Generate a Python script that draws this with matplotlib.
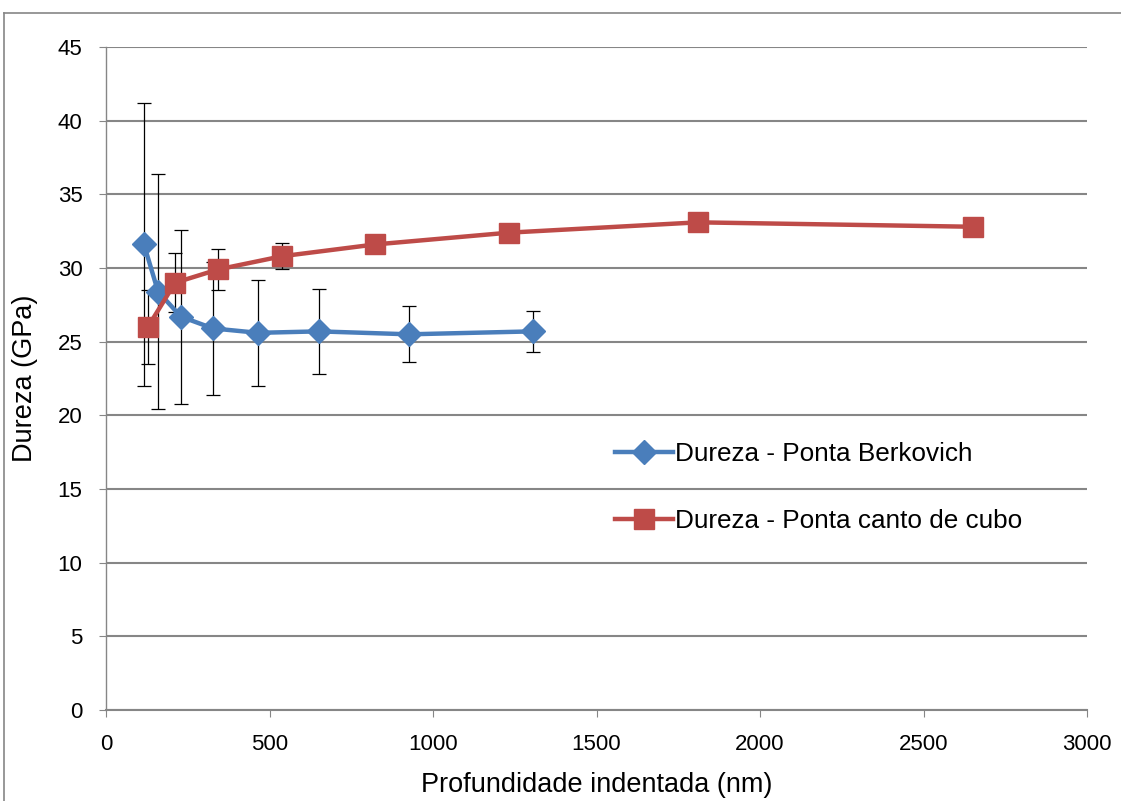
import matplotlib.pyplot as plt
from matplotlib.lines import Line2D

# Dureza - Ponta Berkovich
berk_x = [116, 159, 229, 327, 465, 651, 927, 1306]
berk_y = [31.6, 28.4, 26.7, 25.9, 25.6, 25.7, 25.5, 25.7]
berk_err = [9.6, 8.0, 5.9, 4.5, 3.6, 2.9, 1.9, 1.4]

# Dureza - Ponta canto de cubo
cubo_x = [128, 211, 342, 538, 823, 1232, 1810, 2651]
cubo_y = [26.0, 29.0, 29.9, 30.8, 31.6, 32.4, 33.1, 32.8]
cubo_err = [2.5, 2.0, 1.4, 0.9, 0.5, 0.4, 0.3, 0.2]

x_ticks = [0, 500, 1000, 1500, 2000, 2500, 3000]
y_ticks = [0, 5, 10, 15, 20, 25, 30, 35, 40, 45]

plt.rcParams['font.family'] = ['Liberation Sans', 'DejaVu Sans']

BLUE = '#4A7EBB'
RED = '#BE4B48'
GRID = '#868686'

fig = plt.figure(figsize=(11.21, 8.01), dpi=100)
ax = fig.add_axes([0.0946, 0.1136, 0.8751, 0.8277])

# moldura do grafico (estilo Excel)
fig.add_artist(Line2D([0.0036, 1.0], [0.9838, 0.9838], color=GRID, lw=1.2))
fig.add_artist(Line2D([0.0036, 0.0036], [0.0, 0.9838], color=GRID, lw=1.2))

ax.errorbar(berk_x, berk_y, yerr=berk_err, fmt='none', ecolor='black',
            elinewidth=0.9, capsize=4.7, capthick=0.9, zorder=3)
ax.errorbar(cubo_x, cubo_y, yerr=cubo_err, fmt='none', ecolor='black',
            elinewidth=0.9, capsize=4.7, capthick=0.9, zorder=3)

ax.plot(berk_x, berk_y, color=BLUE, lw=3.2, marker='D', markersize=12,
        markerfacecolor=BLUE, markeredgecolor=BLUE, zorder=4,
        label='Dureza - Ponta Berkovich')
ax.plot(cubo_x, cubo_y, color=RED, lw=3.2, marker='s', markersize=14.5,
        markerfacecolor=RED, markeredgecolor=RED, zorder=5,
        label='Dureza - Ponta canto de cubo')

ax.set_xlim(0, 3000)
ax.set_ylim(0, 45)
ax.set_xticks(x_ticks)
ax.set_yticks(y_ticks)
ax.grid(axis='y', color=GRID, lw=1.5)
ax.set_axisbelow(True)

for s in ['top', 'right']:
    ax.spines[s].set_visible(False)
ax.spines['left'].set_color(GRID)
ax.spines['bottom'].set_color(GRID)
ax.spines['left'].set_linewidth(1.0)
ax.spines['bottom'].set_linewidth(1.5)
ax.tick_params(axis='both', colors=GRID, labelcolor='black', labelsize=16,
               direction='out', length=5)
ax.tick_params(axis='x', pad=12)
ax.tick_params(axis='y', pad=12)

ax.set_xlabel('Profundidade indentada (nm)', fontsize=19.5)
ax.set_ylabel('Dureza (GPa)', fontsize=19.5)
ax.xaxis.set_label_coords(0.5, -0.094)
ax.yaxis.set_label_coords(-0.069, 0.5)

ax.legend(loc='center left', bbox_to_anchor=(0.519, 0.335), frameon=False,
          fontsize=18.8, handlelength=2.2, handletextpad=0.1, labelspacing=1.65,
          borderpad=0, borderaxespad=0)

fig.savefig('out.png', dpi=100)
